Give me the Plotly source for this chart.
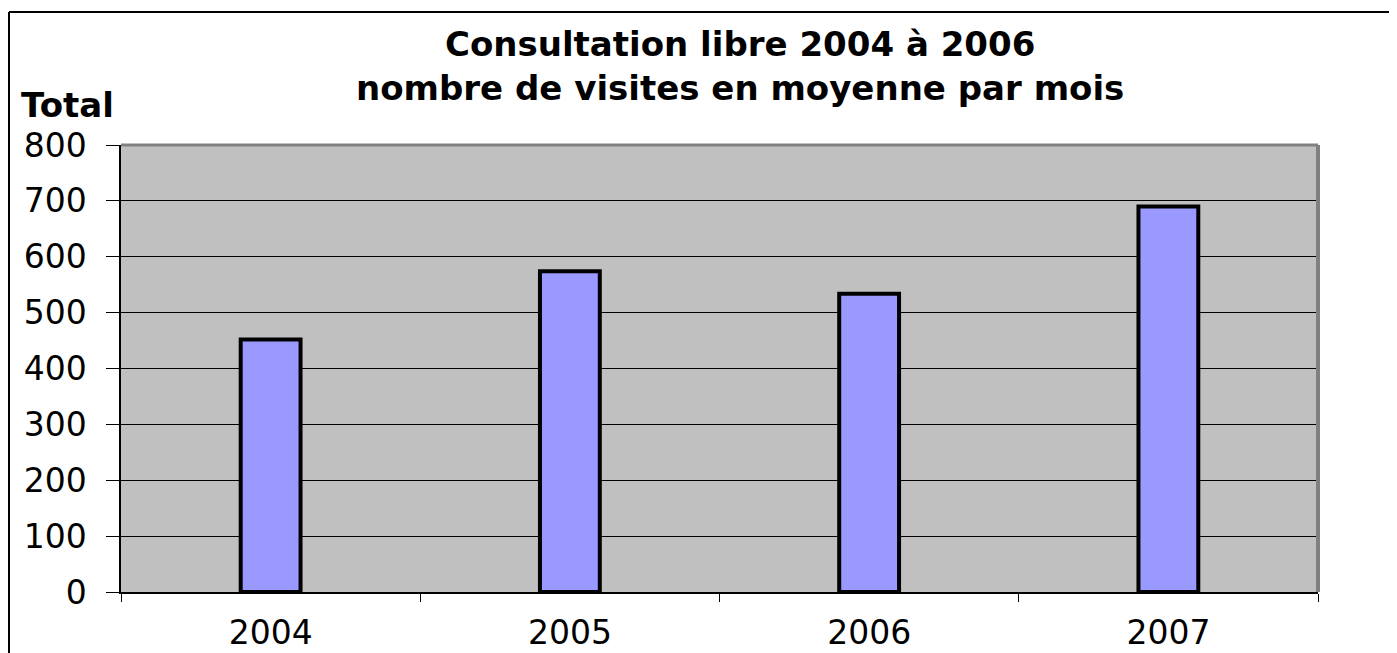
import plotly.graph_objects as go

# Data
years = ['2004', '2005', '2006', '2007']
visits = [452, 574, 534, 690]
y_ticks = [0, 100, 200, 300, 400, 500, 600, 700, 800]

# page body adds ~8px offset, so the figure is a bit smaller than the window
W, H = 1389, 645
L, R, T, B = 113, 79, 137, 61
pw, ph = W - L - R, H - T - B


def px(x):
    return (x - L) / pw


def py(y):
    return (H - B - y) / ph


fig = go.Figure()
fig.add_trace(go.Bar(
    x=years, y=visits, width=0.2,
    marker=dict(color='#9999FF', line=dict(color='black', width=4)),
    hoverinfo='x+y'
))

font = 'DejaVu Sans, Verdana, sans-serif'

# figure frame and plot border (grey top/right edges)
shapes = [
    dict(type='line', xref='paper', yref='paper', x0=px(1), x1=px(W + 10),
         y0=py(4), y1=py(4), line=dict(color='black', width=2)),
    dict(type='line', xref='paper', yref='paper', x0=px(1), x1=px(1),
         y0=py(4), y1=py(H + 10), line=dict(color='black', width=2)),
    dict(type='line', xref='paper', yref='paper', x0=0, x1=1, y0=1, y1=1,
         line=dict(color='#808080', width=3)),
    dict(type='line', xref='paper', yref='paper', x0=1, x1=1, y0=0, y1=1,
         line=dict(color='#808080', width=4)),
]

annotations = [
    dict(text='<b>Consultation libre 2004 à 2006<br>nombre de visites en moyenne par mois</b>',
         x=px(732), y=py(58), font=dict(size=34, family=font)),
    dict(text='<b>Total</b>', x=px(11), xanchor='left', y=py(97),
         font=dict(size=34, family=font)),
]
for a in annotations:
    a.update(xref='paper', yref='paper', showarrow=False, yanchor='middle')
    a.setdefault('xanchor', 'center')

fig.update_layout(
    width=W, height=H,
    margin=dict(l=L, r=R, t=T, b=B),
    paper_bgcolor='white',
    plot_bgcolor='#C0C0C0',
    showlegend=False,
    font=dict(family=font, color='black'),
    annotations=annotations,
    shapes=shapes,
    xaxis=dict(
        type='category', showgrid=False, showline=True, linecolor='black', linewidth=1.5,
        ticks='outside', tickson='boundaries', ticklen=8, tickcolor='black',
        tickfont=dict(size=33, family=font), ticklabelstandoff=11, automargin=False
    ),
    yaxis=dict(
        range=[0, 800], tickvals=y_ticks, showgrid=True, gridcolor='black', gridwidth=1,
        showline=True, linecolor='black', linewidth=1.5, zeroline=False,
        ticks='outside', ticklen=13, tickcolor='black',
        tickfont=dict(size=33, family=font), ticklabelstandoff=13, automargin=False
    ),
    bargap=0.8,
)

fig.write_html('out.html')
